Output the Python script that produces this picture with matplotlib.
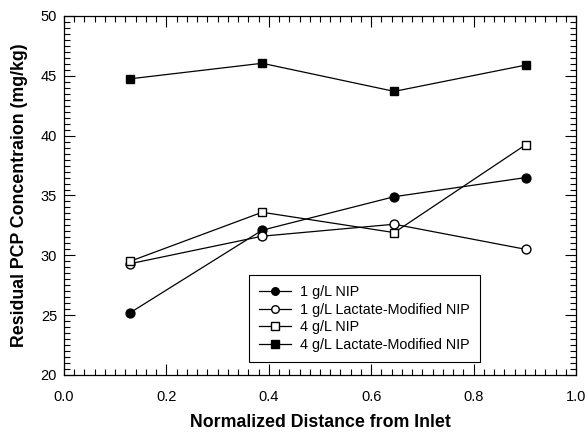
import matplotlib
matplotlib.use("Agg")
import matplotlib.pyplot as plt
from matplotlib.ticker import MultipleLocator

plt.rcParams['font.family'] = ['Liberation Sans', 'DejaVu Sans']

distance = [0.129, 0.387, 0.645, 0.902]
nip_1 = [25.2, 32.1, 34.9, 36.5]
lactate_1 = [29.3, 31.6, 32.6, 30.5]
nip_4 = [29.5, 33.6, 31.9, 39.25]
lactate_4 = [44.75, 46.05, 43.7, 45.9]
labels = ["1 g/L NIP", "1 g/L Lactate-Modified NIP", "4 g/L NIP", "4 g/L Lactate-Modified NIP"]

fig = plt.figure(figsize=(5.88, 4.33), dpi=100)
ax = fig.add_axes([64/588, 1-375/433, 512/588, 359/433])

ax.plot(distance, nip_1, '-o', color='black', mfc='black', mec='black', ms=6.4, lw=0.9, label=labels[0])
ax.plot(distance, lactate_1, '-o', color='black', mfc='white', mec='black', ms=6.4, lw=0.9, label=labels[1])
ax.plot(distance, nip_4, '-s', color='black', mfc='white', mec='black', ms=6.0, lw=0.9, label=labels[2])
ax.plot(distance, lactate_4, '-s', color='black', mfc='black', mec='black', ms=6.0, lw=0.9, label=labels[3])

ax.set_xlim(0, 1.0)
ax.set_ylim(20, 50)
ax.xaxis.set_major_locator(MultipleLocator(0.2))
ax.xaxis.set_minor_locator(MultipleLocator(0.02))
ax.yaxis.set_major_locator(MultipleLocator(5))
ax.yaxis.set_minor_locator(MultipleLocator(0.5))
ax.tick_params(which='both', direction='in', top=True, right=True, labelsize=10.5, width=0.8)
ax.tick_params(which='major', length=7.8)
ax.tick_params(which='minor', length=4.6)
ax.tick_params(axis='x', which='major', pad=11)
ax.tick_params(axis='y', which='major', pad=5)
for s in ax.spines.values():
    s.set_linewidth(0.9)

ax.set_xticklabels([f"{v:.1f}" for v in ax.get_xticks()])
ax.set_xlabel("Normalized Distance from Inlet", fontsize=12.8, fontweight='bold', labelpad=7)
ax.set_ylabel("Residual PCP Concentraion (mg/kg)", fontsize=12.8, fontweight='bold', labelpad=9)

leg = ax.legend(loc='lower left', bbox_to_anchor=((249-64)/512, (375-362)/359),
                bbox_transform=ax.transAxes, fontsize=10.4, fancybox=False, framealpha=1,
                edgecolor='black', handlelength=2.2, handletextpad=0.62, borderpad=0.72,
                labelspacing=0.24, borderaxespad=0, markerscale=0.85)
leg.get_frame().set_linewidth(0.8)

fig.savefig("out.png", dpi=100)
